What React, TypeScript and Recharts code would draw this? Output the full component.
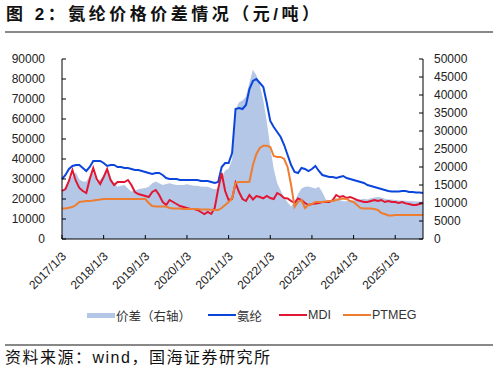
import React from 'react';
import { ComposedChart, Area, Line, XAxis, YAxis } from 'recharts';

// monthly points, 2017/1 .. 2025/9 (tick label only at each January)
const years = [2017, 2018, 2019, 2020, 2021, 2022, 2023, 2024, 2025];

const spandex = [
  30000, 32000, 35000, 36500, 37000, 37000, 35500, 34000, 36000, 39000, 39000, 39000,
  38000, 36500, 37000, 37000, 36000, 36000, 35500, 35500, 35000, 34500, 34500, 34000,
  33500, 33000, 32500, 33000, 33000, 32000, 30500, 30000, 30000, 30000, 29500, 29500,
  29500, 29500, 29500, 29500, 29000, 29000, 29000, 28500, 28000, 28500, 36000, 38000,
  38000, 43000, 65000, 65500, 65000, 67000, 75000, 79000, 80000, 78000, 76000, 68000,
  59000, 56000, 53500, 51000, 47000, 42000, 37000, 33500, 33000, 35500, 35000, 34000,
  35000, 36500, 34000, 32000, 31500, 31000, 31000, 30500, 31000, 31500, 30500, 30000,
  29500, 29000, 28500, 28000, 27000, 26500, 26000, 25500, 25000, 24500, 24000, 23700,
  23700, 23800, 24000, 24000, 23500, 23500, 23300, 23200, 23000,
];

const mdi = [
  24000, 25000, 29000, 34500, 29000, 25500, 24000, 23000, 30000, 35500, 30000, 27500,
  31000, 35000, 29500, 27000, 28500, 28500, 28500, 29500, 27000, 23500, 22500, 22000,
  21500, 21000, 23500, 24500, 22000, 18500, 17000, 19500, 18500, 17500, 16500, 16000,
  15500, 15000, 15000, 14500, 13500, 12500, 13500, 12500, 15500, 25000, 33000, 24000,
  19500, 20000, 28000, 23500, 20000, 19000, 22000, 19800, 21500, 21000, 20300, 21500,
  20500, 20000, 23000, 22000, 20500, 20300, 19000, 18000, 20300, 19500, 18000, 17000,
  17500, 17800, 18000, 18500, 18500, 18500, 19500, 22000, 21000, 21500, 20500, 21000,
  20300, 19500, 19000, 18500, 18500, 19000, 19500, 19000, 19500, 18500, 19000, 18500,
  18500, 18000, 18500, 17800, 17500, 17000, 17000, 17500, 18000,
];

const ptmeg = [
  15300, 15300, 15600, 16000, 17000, 18500, 18700, 19000, 19000, 19200, 19500, 19700,
  20000, 20000, 20000, 20000, 20000, 20000, 20000, 20000, 20000, 20000, 20000, 20000,
  20000, 18000, 16500, 16200, 16200, 16200, 16200, 15500, 15300, 15200, 15200, 15000,
  15000, 15000, 15000, 15000, 14800, 14800, 14700, 14600, 14500, 14500, 15500, 17000,
  18500, 20300, 28000, 28500, 28500, 28500, 28600, 37000, 42500, 45500, 46650, 46650,
  46000, 41500, 41000, 41000, 40000, 36000, 27000, 16000, 18500, 19500, 15500, 17000,
  17500, 18500, 18500, 18500, 18800, 19000, 19000, 19500, 20000, 20300, 20000, 19000,
  18500, 17000, 15500, 15300, 15300, 15200, 15000, 14500, 13000, 12500, 11800, 11800,
  12000, 12000, 12000, 12000, 12000, 12000, 12000, 12000, 12000,
];

// 价差, right axis
const spread = [
  13000, 14000, 16000, 17500, 18500, 16500, 16000, 16000, 17500, 18500, 16000, 16500,
  17500, 19000, 17000, 15500, 14500, 14800, 15000, 14000, 13200, 13500, 13800, 14000,
  14200, 14500, 15500, 16000, 15500, 15000, 15300, 15500, 15200, 15000, 15000, 15000,
  15200, 15000, 14800, 14800, 14600, 14500, 14500, 14100, 13800, 14000, 17000, 19000,
  19500, 22000, 36000, 38000, 38500, 39500, 43500, 47000, 45500, 42800, 38500, 32600,
  25500, 19500, 15500, 13500, 11500, 10200, 9000, 10500, 12500, 14000, 14500, 14600,
  14300, 14000, 14500, 13000, 11000, 10500, 11000, 11300, 10800, 10500, 10500, 10700,
  10700, 10800, 11000, 11200, 11000, 11300, 11500, 11700, 11500, 11200, 11000, 11000,
  10800, 10700, 10700, 10600, 10500, 10500, 10400, 10400, 10400,
];

const leftTicks = [0, 10000, 20000, 30000, 40000, 50000, 60000, 70000, 80000, 90000];
const rightTicks = [0, 5000, 10000, 15000, 20000, 25000, 30000, 35000, 40000, 45000, 50000];

const data = spandex.map((v, i) => {
  const y = years[0] + Math.floor(i / 12);
  const m = (i % 12) + 1;
  return { date: `${y}/${m}/3`, spandex: v, mdi: mdi[i], ptmeg: ptmeg[i], spread: spread[i] };
});

const C_AREA = '#B4C7E7';
const C_BLUE = '#0B45DC';
const C_RED = '#E01632';
const C_ORANGE = '#EE7D31';
const FONT = '"Liberation Sans", Arial, "Noto Sans CJK SC", sans-serif';

const XTick = (props: any) => {
  const { x, y, payload } = props;
  return (
    <g>
      <line x1={x} y1={y} x2={x} y2={y - 4} stroke="#000" />
      <text
        transform={`translate(${x + 5},${y + 18}) rotate(-45)`}
        textAnchor="end"
        fontSize={12}
        fill="#222"
        fontFamily={FONT}
      >
        {payload.value}
      </text>
    </g>
  );
};

const LeftTick = (props: any) => {
  const { x, y, payload } = props;
  return (
    <g>
      <line x1={x} y1={y} x2={x + 4} y2={y} stroke="#000" />
      <text x={x - 17} y={y + 4} textAnchor="end" fontSize={12} fill="#222" fontFamily={FONT}>
        {payload.value}
      </text>
    </g>
  );
};

const RightTick = (props: any) => {
  const { x, y, payload } = props;
  return (
    <g>
      <line x1={x} y1={y} x2={x - 4} y2={y} stroke="#000" />
      <text x={x + 11} y={y + 4} textAnchor="start" fontSize={12} fill="#222" fontFamily={FONT}>
        {payload.value}
      </text>
    </g>
  );
};

const legendItems = [
  { name: '价差（右轴）', color: C_AREA, left: 87, thick: 5 },
  { name: '氨纶', color: C_BLUE, left: 208, thick: 2 },
  { name: 'MDI', color: C_RED, left: 279, thick: 2 },
  { name: 'PTMEG', color: C_ORANGE, left: 343, thick: 2 },
];

export default function App() {
  return (
    <div style={{ position: 'absolute', left: 0, top: 0, width: 498, height: 372, background: '#fff', fontFamily: FONT }}>
      <div
        style={{
          position: 'absolute', left: 6, top: 4, fontSize: 17, fontWeight: 'bold',
          letterSpacing: 3.5, color: '#111', whiteSpace: 'nowrap', lineHeight: '22px',
        }}
      >
        图 2：氨纶价格价差情况（元/吨）
      </div>
      <div style={{ position: 'absolute', left: 5, top: 31, width: 488, height: 2, background: '#888' }} />

      <div style={{ position: 'absolute', left: 0, top: 0 }}>
        <ComposedChart width={498} height={300} data={data} margin={{ top: 59, right: 15, left: 7, bottom: 11 }}>
          <XAxis
            dataKey="date"
            interval={11}
            tickSize={0}
            tickMargin={0}
            tick={<XTick />}
            height={50}
            axisLine={{ stroke: '#000' }}
          />
          <YAxis
            yAxisId="left"
            domain={[0, 90000]}
            ticks={leftTicks}
            interval={0}
            width={55}
            tickSize={0}
            tickMargin={0}
            tick={<LeftTick />}
            axisLine={{ stroke: '#000' }}
          />
          <YAxis
            yAxisId="right"
            orientation="right"
            domain={[0, 50000]}
            ticks={rightTicks}
            interval={0}
            width={60}
            tickSize={0}
            tickMargin={0}
            tick={<RightTick />}
            axisLine={{ stroke: '#000' }}
          />
          <Area
            yAxisId="right"
            dataKey="spread"
            type="linear"
            stroke="none"
            fill={C_AREA}
            fillOpacity={1}
            isAnimationActive={false}
          />
          <Line yAxisId="left" dataKey="spandex" type="linear" stroke={C_BLUE} strokeWidth={2} dot={false} isAnimationActive={false} />
          <Line yAxisId="left" dataKey="mdi" type="linear" stroke={C_RED} strokeWidth={2} dot={false} isAnimationActive={false} />
          <Line yAxisId="left" dataKey="ptmeg" type="linear" stroke={C_ORANGE} strokeWidth={2} dot={false} isAnimationActive={false} />
        </ComposedChart>
      </div>

      {legendItems.map((it) => (
        <div
          key={it.name}
          style={{ position: 'absolute', left: it.left, top: 306, height: 18, display: 'flex', alignItems: 'center', whiteSpace: 'nowrap' }}
        >
          <div style={{ width: 28, height: it.thick, background: it.color }} />
          <span style={{ fontSize: 12.5, color: '#333', marginLeft: 1 }}>{it.name}</span>
        </div>
      ))}

      <div style={{ position: 'absolute', left: 5, top: 344, width: 488, height: 2, background: '#888' }} />
      <div
        style={{
          position: 'absolute', left: 5, top: 348, fontSize: 16, letterSpacing: 1.5,
          color: '#111', whiteSpace: 'nowrap', lineHeight: '20px',
        }}
      >
        资料来源：wind，国海证券研究所
      </div>
    </div>
  );
}
